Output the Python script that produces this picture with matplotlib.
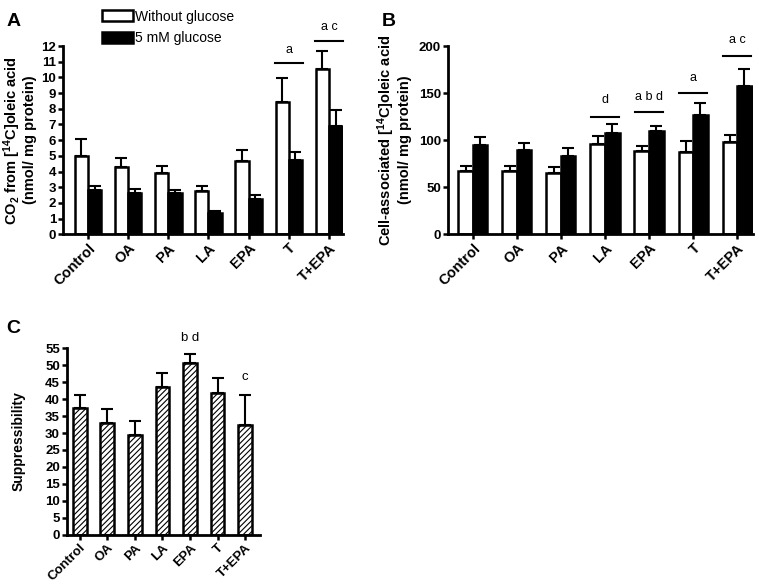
import numpy as np
import matplotlib
matplotlib.use("Agg")
import matplotlib.pyplot as plt

plt.rcParams['font.family'] = ['Liberation Sans', 'DejaVu Sans']
plt.rcParams['font.weight'] = 'bold'
plt.rcParams['axes.labelweight'] = 'bold'
plt.rcParams['mathtext.fontset'] = 'custom'
plt.rcParams['mathtext.rm'] = 'Liberation Sans:bold'
plt.rcParams['mathtext.default'] = 'rm'
plt.rcParams['hatch.linewidth'] = 0.8

groups = ['Control', 'OA', 'PA', 'LA', 'EPA', 'T', 'T+EPA']

# panel A: CO2 from oleic acid
co2_noglc = [5.0, 4.3, 3.9, 2.75, 4.7, 8.45, 10.55]
co2_noglc_err = [1.1, 0.55, 0.45, 0.35, 0.7, 1.5, 1.15]
co2_glc = [2.8, 2.65, 2.62, 1.38, 2.22, 4.75, 6.9]
co2_glc_err = [0.3, 0.25, 0.22, 0.08, 0.3, 0.5, 1.0]

# panel B: cell-associated oleic acid
cell_noglc = [67, 67, 65, 96, 89, 87, 98]
cell_noglc_err = [5, 5, 6, 8, 5, 12, 8]
cell_glc = [95, 90, 83, 108, 110, 127, 158]
cell_glc_err = [8, 7, 9, 9, 5, 13, 18]

# panel C: suppressibility
supp = [37.5, 33.0, 29.5, 43.5, 50.5, 41.8, 32.3]
supp_err = [3.7, 4.0, 4.0, 4.3, 2.8, 4.5, 9.0]

# significance marks: (group index, line y, text y, text)
sig_a = [(5, 10.9, 11.4, 'a'), (6, 12.35, 12.85, 'a c')]
sig_b = [(3, 125, 136, 'd'), (4, 130, 139, 'a b d'), (5, 150, 160, 'a'), (6, 190, 200, 'a c')]
sig_c = [(4, 56.2, 'b d'), (6, 44.8, 'c')]

x = np.arange(len(groups))


def style_ax(ax, xfs=10.5):
    for s in ['top', 'right']:
        ax.spines[s].set_visible(False)
    for s in ['left', 'bottom']:
        ax.spines[s].set_linewidth(2)
    ax.tick_params(axis='both', width=1.8, length=3.5, pad=1.5)
    ax.tick_params(axis='y', labelsize=9.5)
    ax.set_xticks(x)
    ax.set_xticklabels(groups, rotation=45, ha='right', rotation_mode='anchor', fontsize=xfs)


fig = plt.figure(figsize=(7.59, 5.84), dpi=100)

# ---- A
axA = fig.add_axes([0.083, 0.599, 0.369, 0.322])
w = 0.33
ekw = dict(elinewidth=1.5, capsize=4, capthick=1.5, ecolor='black')
axA.bar(x - w / 2, co2_noglc, w, color='white', edgecolor='black', linewidth=1.8,
        yerr=[np.zeros(7), co2_noglc_err], error_kw=ekw, label='Without glucose')
axA.bar(x + w / 2, co2_glc, w, color='black', edgecolor='black', linewidth=1.8,
        yerr=[np.zeros(7), co2_glc_err], error_kw=ekw, label='5 mM glucose')
axA.set_ylim(0, 12)
axA.set_yticks(range(13))
axA.set_xlim(-0.62, 6.35)
style_ax(axA)
axA.set_ylabel('CO$_2$ from [$^{14}$C]oleic acid\n(nmol/ mg protein)', fontsize=10.5, labelpad=3,
               linespacing=1.05)
for i, ly, ty, t in sig_a:
    axA.plot([i - 0.35, i + 0.35], [ly, ly], color='black', lw=1.5, clip_on=False)
    axA.text(i, ty, t, ha='center', va='bottom', fontsize=9, fontweight='normal', clip_on=False)
axA.legend(loc='upper left', bbox_to_anchor=(0.095, 1.26), frameon=False,
           handlelength=2.2, handleheight=0.85, labelspacing=0.55, handletextpad=0.2,
           prop={'weight': 'normal', 'size': 10})

# ---- B
axB = fig.add_axes([0.590, 0.599, 0.402, 0.322])
axB.bar(x - w / 2, cell_noglc, w, color='white', edgecolor='black', linewidth=1.8,
        yerr=[np.zeros(7), cell_noglc_err], error_kw=ekw)
axB.bar(x + w / 2, cell_glc, w, color='black', edgecolor='black', linewidth=1.8,
        yerr=[np.zeros(7), cell_glc_err], error_kw=ekw)
axB.set_ylim(0, 200)
axB.set_yticks([0, 50, 100, 150, 200])
axB.set_xlim(-0.57, 6.36)
style_ax(axB)
axB.set_ylabel('Cell-associated [$^{14}$C]oleic acid\n(nmol/ mg protein)', fontsize=10.5, labelpad=5,
               linespacing=1.05)
for i, ly, ty, t in sig_b:
    axB.plot([i - 0.32, i + 0.32], [ly, ly], color='black', lw=1.5, clip_on=False)
    axB.text(i, ty, t, ha='center', va='bottom', fontsize=9, fontweight='normal', clip_on=False)

# ---- C
axC = fig.add_axes([0.088, 0.084, 0.255, 0.320])
axC.bar(x, supp, 0.5, color='white', edgecolor='black', linewidth=1.8, hatch='//////',
        yerr=[np.zeros(7), supp_err], error_kw=ekw)
axC.set_ylim(0, 55)
axC.set_yticks(range(0, 56, 5))
axC.set_xlim(-0.47, 6.55)
style_ax(axC, xfs=9.5)
axC.set_ylabel('Suppressibility', fontsize=10, labelpad=14)
for i, ty, t in sig_c:
    axC.text(i, ty, t, ha='center', va='bottom', fontsize=9.5, fontweight='normal', clip_on=False)

fig.text(0.008, 0.978, 'A', fontsize=14, fontweight='bold', va='top')
fig.text(0.503, 0.978, 'B', fontsize=14, fontweight='bold', va='top')
fig.text(0.008, 0.452, 'C', fontsize=14, fontweight='bold', va='top')

fig.savefig('out.png', dpi=100)
